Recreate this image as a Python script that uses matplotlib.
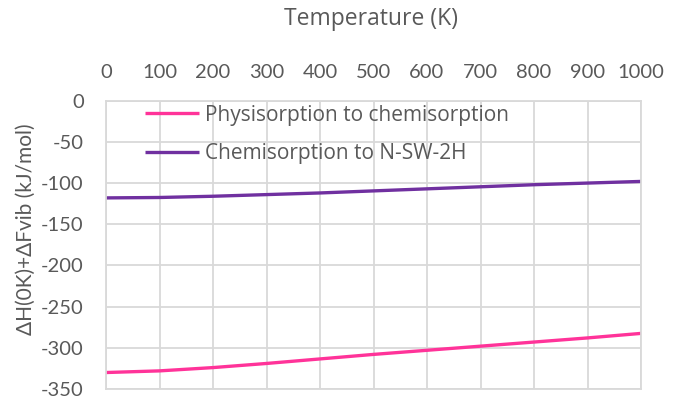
import matplotlib
matplotlib.use("Agg")
import matplotlib.pyplot as plt

temperature = [0, 100, 200, 300, 400, 500, 600, 700, 800, 900, 1000]
physi_to_chemi = [-330, -328, -324, -319, -313.5, -308, -303, -298, -293, -288, -282.5]
chemi_to_nsw2h = [-118, -117.5, -116, -114, -112, -109.5, -107, -104.5, -102, -100, -98]
x_ticks = list(range(0, 1001, 100))
y_ticks = list(range(0, -351, -50))

plt.rcParams['font.family'] = ['Lato', 'DejaVu Sans']
plt.rcParams['axes.unicode_minus'] = False
tc = '#595959'
W, H = 681, 403

fig = plt.figure(figsize=(6.81, 4.03), dpi=100)
ax = fig.add_axes([106/W, 1-389/H, (641-106)/W, (389-100.7)/H])

ax.plot(temperature, physi_to_chemi, color='#FF3399', lw=2.4, label='Physisorption to chemisorption', solid_capstyle='butt')
ax.plot(temperature, chemi_to_nsw2h, color='#7030A0', lw=2.4, label='Chemisorption to N-SW-2H', solid_capstyle='butt')

ax.set_xlim(0, 1000)
ax.set_ylim(-350, 0)
ax.set_xticks(x_ticks)
ax.set_yticks(y_ticks)
ax.xaxis.tick_top()
ax.tick_params(length=0, labelsize=14.5, colors=tc)
ax.tick_params(axis='x', pad=14)
ax.tick_params(axis='y', pad=16)
ax.grid(True, color='#d9d9d9', lw=1.3)
ax.set_axisbelow(True)
for s in ax.spines.values():
    s.set_color('#d9d9d9')
    s.set_linewidth(1.3)

fig.text(371/W, 1-19/H, 'Temperature (K)', fontsize=16.5, color=tc, family=['Open Sans', 'DejaVu Sans'],
         ha='center', va='center')
fig.text(26/W, 1-229/H, 'ΔH(0K)+ΔFvib (kJ/mol)', fontsize=15, color=tc, rotation=90,
         ha='center', va='center')

leg = ax.legend(loc='upper left', bbox_to_anchor=(39/535, 1 - 4/288), frameon=False,
                prop={'family': ['Open Sans', 'DejaVu Sans'], 'size': 15},
                handlelength=2.6, handletextpad=0.3, labelspacing=0.85,
                labelcolor=tc, borderaxespad=0.0, borderpad=0.0)
for l in leg.get_lines():
    l.set_linewidth(2.4)

fig.savefig('out.png', dpi=100)
